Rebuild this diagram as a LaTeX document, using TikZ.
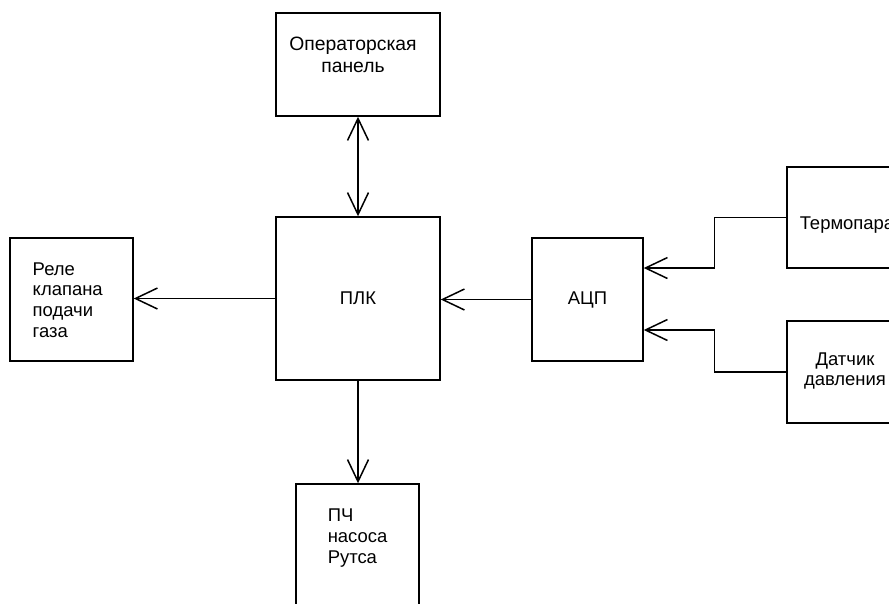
\documentclass[tikz,border=0pt]{standalone}
\usepackage{fontspec}
\setmainfont{Liberation Sans}
\usetikzlibrary{positioning}
\usetikzlibrary{arrows.meta}

\begin{document}
\begin{tikzpicture}[x = 0.02cm, y = -0.02cm, line width = 0.85pt,
	>= {Straight Barb[length = 0.44cm, width = 0.42cm]},
	block/.style = {draw, black, inner sep = 0pt, font = \fontsize{10.5}{12}\selectfont},
	txt/.style = {inner sep = 0pt, font = \fontsize{10.5}{11.8}\selectfont}]
	\useasboundingbox (0, 0) rectangle (889, 603);
	\clip (0, 0) rectangle (889, 603);
	% blocks
	\node [block, minimum width = 3.28cm, minimum height = 2.06cm] (panel) at (358, 64.5) {};
	\node [block, minimum width = 3.28cm, minimum height = 3.26cm] (plk) at (358, 298.5) {ПЛК};
	\node [block, minimum width = 2.46cm, minimum height = 2.46cm] (rele) at (71.5, 299.5) {};
	\node [block, minimum width = 2.46cm, minimum height = 2.52cm] (pch) at (357.5, 547) {};
	\node [block, minimum width = 2.22cm, minimum height = 2.46cm] (adc) at (587.5, 299.5) {АЦП};
	\node [block, minimum width = 2.2cm, minimum height = 2.02cm] (termo) at (842, 217.5) {};
	\node [block, minimum width = 2.2cm, minimum height = 2.04cm] (dat) at (842, 372) {};
	% texts
	\node [txt, align = center, font = \fontsize{11}{12.5}\selectfont] (panel text) at (353, 55) {Операторская\\панель};
	\node [txt, align = left, anchor = west] (rele text) at (32, 300) {Реле\\клапана\\подачи\\газа};
	\node [txt, align = left, anchor = west] (pch text) at (327, 538) {ПЧ\\насоса\\Рутса};
	\node [txt, anchor = base west] (termo text) at (799, 229) {Термопара};
	\node [txt, align = center] (dat text) at (845, 371) {Датчик\\давления};
	% links
	\draw [<->] (panel) -- (plk);
	\draw [->] (plk.west) -- (rele.east |- plk.west);
	\draw [->] (plk.south) -- (plk.south |- pch.north);
	\draw [->] (adc.west) -- (adc.west -| plk.east);
	\draw [->] (termo.west) -- ++(-72, 0) |- ([yshift = 0.63cm]adc.east);
	\draw [->] (dat.west) -- ++(-72, 0) |- ([yshift = -0.61cm]adc.east);
\end{tikzpicture}
\end{document}
